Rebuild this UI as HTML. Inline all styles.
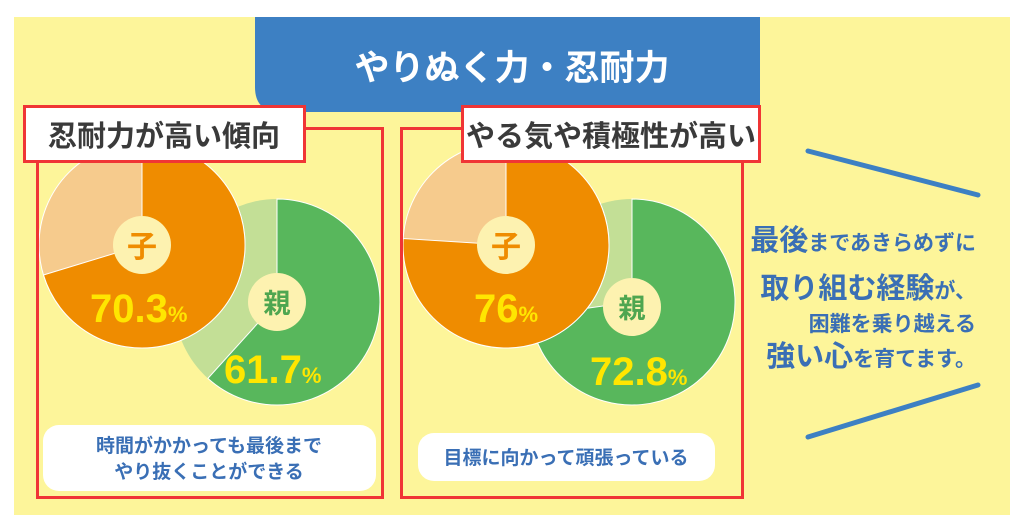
<!DOCTYPE html>
<html><head><meta charset="utf-8"><style>
html,body{margin:0;padding:0;background:#fff;}
svg{display:block;}
text{font-family:"Liberation Sans","Noto Sans CJK JP",sans-serif;font-weight:bold;}
</style></head><body>
<svg width="1024" height="529" viewBox="0 0 1024 529">
<rect x="14" y="17" width="996" height="498" fill="#fdf59a"/>
<path d="M255 17 H760 V112 H280 Q255 112 255 87 Z" fill="#3d80c3"/>
<text x="512" y="80" font-size="35" fill="#fff" text-anchor="middle">やりぬく力・忍耐力</text>

<!-- left pies -->
<circle cx="277" cy="302" r="103" fill="#c3df96"/>
<path d="M277 302 L277 199 A103 103 0 1 1 207.9 378.4 Z" fill="#58b75c" stroke="#fff" stroke-width="1"/>
<circle cx="142" cy="245" r="103" fill="#f6cb8d" stroke="#fff" stroke-width="1"/>
<path d="M142 245 L142 142 A103 103 0 1 1 43.5 275 Z" fill="#ef8c00" stroke="#fff" stroke-width="1"/>
<circle cx="142" cy="245" r="29" fill="#fdf2b0"/>
<text x="142" y="257" font-size="30" fill="#ef8c00" text-anchor="middle">子</text>
<circle cx="277" cy="302" r="29" fill="#fdf2b0"/>
<text x="277" y="313" font-size="27" fill="#4ea650" text-anchor="middle">親</text>
<text x="90" y="322" font-size="40" fill="#ffe600">70.3<tspan font-size="22">%</tspan></text>
<text x="224" y="383" font-size="40" fill="#ffe600">61.7<tspan font-size="22">%</tspan></text>

<!-- right pies -->
<circle cx="632" cy="302" r="103" fill="#c3df96"/>
<path d="M632 302 L632 199 A103 103 0 1 1 530 316.2 Z" fill="#58b75c" stroke="#fff" stroke-width="1"/>
<circle cx="506" cy="245" r="103" fill="#f6cb8d" stroke="#fff" stroke-width="1"/>
<path d="M506 245 L506 142 A103 103 0 1 1 403.2 238.5 Z" fill="#ef8c00" stroke="#fff" stroke-width="1"/>
<rect x="380" y="120" width="20" height="240" fill="#fdf59a"/>
<circle cx="506" cy="245" r="29" fill="#fdf2b0"/>
<text x="506" y="257" font-size="30" fill="#ef8c00" text-anchor="middle">子</text>
<circle cx="632" cy="307" r="29" fill="#fdf2b0"/>
<text x="632" y="318" font-size="27" fill="#4ea650" text-anchor="middle">親</text>
<text x="474" y="322" font-size="40" fill="#ffe600">76<tspan font-size="22">%</tspan></text>
<text x="590" y="385" font-size="40" fill="#ffe600">72.8<tspan font-size="22">%</tspan></text>

<!-- frames -->
<rect x="37.5" y="128.5" width="345" height="369" fill="none" stroke="#f03535" stroke-width="3"/>
<rect x="401.5" y="128.5" width="341" height="369" fill="none" stroke="#f03535" stroke-width="3"/>
<rect x="24.5" y="106.5" width="280" height="55" fill="#fff" stroke="#f03535" stroke-width="3"/>
<text x="164" y="146" font-size="29" fill="#3a3a3a" text-anchor="middle">忍耐力が高い傾向</text>
<rect x="462.5" y="106.5" width="297" height="55" fill="#fff" stroke="#f03535" stroke-width="3"/>
<text x="611" y="146" font-size="29" fill="#3a3a3a" text-anchor="middle">やる気や積極性が高い</text>

<!-- bottom boxes -->
<rect x="43" y="425" width="333" height="66" rx="16" fill="#fff"/>
<text x="209" y="452" font-size="19" fill="#3a6fb5" text-anchor="middle">時間がかかっても最後まで</text>
<text x="209" y="478" font-size="19" fill="#3a6fb5" text-anchor="middle">やり抜くことができる</text>
<rect x="418" y="433" width="297" height="48" rx="16" fill="#fff"/>
<text x="566" y="464" font-size="19" fill="#3a6fb5" text-anchor="middle">目標に向かって頑張っている</text>

<!-- right side -->
<line x1="808" y1="151" x2="978" y2="195" stroke="#3d80c3" stroke-width="5" stroke-linecap="round"/>
<line x1="808" y1="437" x2="978" y2="385" stroke="#3d80c3" stroke-width="5" stroke-linecap="round"/>
<g fill="#3a6fb5" text-anchor="end">
<text x="976" y="250"><tspan font-size="29">最後</tspan><tspan font-size="21">まであきらめずに</tspan></text>
<text x="976" y="298"><tspan font-size="29">取り組む経験</tspan><tspan font-size="21">が、</tspan></text>
<text x="976" y="331" font-size="21">困難を乗り越える</text>
<text x="976" y="366"><tspan font-size="29">強い心</tspan><tspan font-size="21">を育てます。</tspan></text>
</g>
</svg>
</body></html>
